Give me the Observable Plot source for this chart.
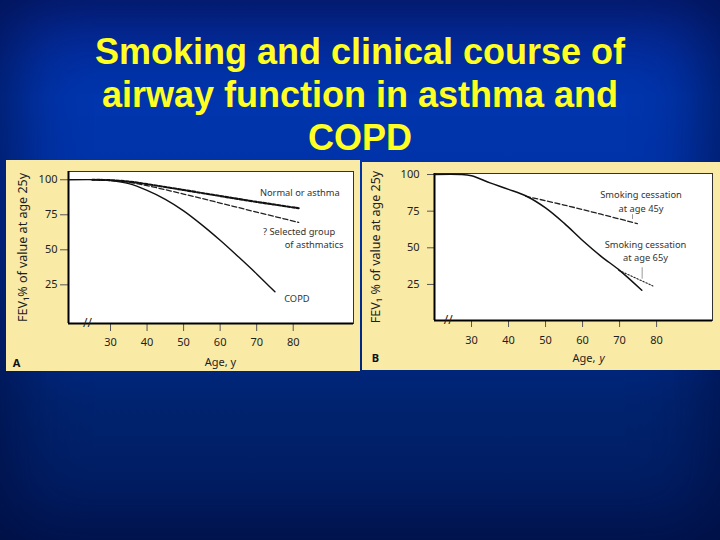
<!DOCTYPE html>
<html>
<head>
<meta charset="utf-8">
<script src="https://cdn.jsdelivr.net/npm/d3@7"></script>
<script src="https://cdn.jsdelivr.net/npm/@observablehq/plot@0.6"></script>
<style>
  html, body { margin: 0; padding: 0; }
  body {
    width: 720px; height: 540px; position: relative; overflow: hidden;
    background: linear-gradient(to bottom, #06289a 0%, #0035ad 18%, #0031a4 45%, #00236f 75%, #001a5c 100%);
  }
  #vignette {
    position: absolute; left: 0; top: 0; width: 720px; height: 540px;
    box-shadow: inset 0 0 70px 10px rgba(0, 12, 60, 0.75);
    pointer-events: none;
  }
  #title {
    position: absolute; left: 0; top: 30px; width: 720px; margin: 0;
    text-align: center; color: #ffff22;
    font-family: "Liberation Sans", Arial, sans-serif; font-weight: bold;
    font-size: 36px; line-height: 43px;
  }
  .panel { position: absolute; background: #f9eaa6; }
  .panel svg { display: block; }
  #panelA { left: 6px; top: 160px; width: 354px; height: 211px; }
  #panelB { left: 362px; top: 162px; width: 358px; height: 208px; }
</style>
</head>
<body>
<div id="vignette"></div>
<h1 id="title">Smoking and clinical course of<br>airway function in asthma and<br>COPD</h1>
<div class="panel" id="panelA"></div>
<div class="panel" id="panelB"></div>
<script>
// ---------- data ----------
const ageTicks = [30, 40, 50, 60, 70, 80];
const fevTicks = [25, 50, 75, 100];

// Panel A
const ageNormalA = [25, 30, 35, 40, 50, 60, 70, 81.5];
const fevNormalA = [100, 99.7, 98.7, 96.9, 92.7, 88.4, 84.2, 79.7];
const ageSelectedA = [25, 30, 35, 40, 50, 60, 70, 81.5];
const fevSelectedA = [100, 99.6, 98.2, 95.8, 89.8, 83.4, 76.9, 69.6];
const ageCopdA = [18.5, 27, 30, 35, 40, 45, 50, 55, 60, 65, 70, 75];
const fevCopdA = [100, 100, 99.4, 97.2, 92.4, 86.0, 77.8, 67.8, 56.8, 45.0, 32.8, 20];
const notesA = [
  {age: 81.8, fev: 90.6, text: "Normal or asthma"},
  {age: 81.6, fev: 62.6, text: "? Selected group"},
  {age: 85.7, fev: 53.6, text: "of asthmatics"},
  {age: 81.0, fev: 15.2, text: "COPD"}
];

// Panel B
const ageSmokeB = [20, 27, 30, 35, 40, 45, 50, 55, 60, 65, 70, 76];
const fevSmokeB = [100, 100, 99.1, 94.3, 89.9, 85.0, 77.2, 66.8, 55.0, 44.2, 34.6, 21];
const ageStop45B = [44.6, 55, 65, 74.8];
const fevStop45B = [85.2, 79.2, 72.9, 66.5];
const ageStop65B = [69.8, 79];
const fevStop65B = [34.6, 24];
const noteStop45B = [{age: 75.8, fev: 82.4, text: "Smoking cessation\nat age 45y"}];
const noteStop65B = [{age: 77.0, fev: 48.3, text: "Smoking cessation\nat age 65y"}];
const leadersB = [
  {age: 73.5, from: 69.3, to: 72.6},
  {age: 76.1, from: 28.6, to: 36.4}
];
const breakAge = [23.7];

const xDomA = [18.5, 96.5], yDomA = [-2.6, 105.9];
const xDomB = [20, 95.1], yDomB = [0.4, 100.7];

const pts = (xs, ys) => xs.map((x, i) => ({x, y: ys[i]}));
const ink = "#1e1e1e";
const font = "Noto Sans, Open Sans, sans-serif";

// ---------- panel A ----------
const plotA = Plot.plot({
  width: 354, height: 211,
  marginLeft: 62, marginRight: 7, marginTop: 11, marginBottom: 48,
  style: {background: "transparent", fontFamily: font, color: ink, overflow: "visible"},
  x: {domain: xDomA},
  y: {domain: yDomA},
  marks: [
    Plot.frame({fill: "white", stroke: "#333", strokeWidth: 1}),
    Plot.axisX({ticks: ageTicks, tickSize: 8, tickPadding: 7, fontSize: 11, label: null, stroke: "#555"}),
    Plot.axisY({ticks: fevTicks, tickSize: 8, tickPadding: 3, fontSize: 11, label: null, stroke: "#555"}),
    Plot.ruleX([xDomA[0]], {stroke: "black", strokeWidth: 2}),
    Plot.ruleY([yDomA[0]], {stroke: "black", strokeWidth: 2}),
    Plot.line(pts(ageSelectedA, fevSelectedA), {x: "x", y: "y", curve: "catmull-rom", stroke: "#222", strokeWidth: 1.3, strokeDasharray: "5,2.5"}),
    Plot.line(pts(ageNormalA, fevNormalA), {x: "x", y: "y", curve: "catmull-rom", stroke: "#111", strokeWidth: 2.1, strokeDasharray: "3,1.8"}),
    Plot.line(pts(ageCopdA, fevCopdA), {x: "x", y: "y", curve: "catmull-rom", stroke: "#111", strokeWidth: 1.4}),
    Plot.text(notesA, {x: "age", y: "fev", text: "text", fontSize: 9.3, fill: "#333"}),
    Plot.text(breakAge, {x: d => d, frameAnchor: "bottom", text: () => "//", fontSize: 12, fill: "#222", lineAnchor: "middle"}),
    Plot.text(["FEV\u2081% of value at age 25y"], {frameAnchor: "left", rotate: -90, dx: -46, fontSize: 12.5, fill: ink, textAnchor: "middle", lineAnchor: "middle"}),
    Plot.text(["Age, y"], {frameAnchor: "bottom", dx: 9.5, dy: 39, fontSize: 11, fill: ink, textAnchor: "middle", lineAnchor: "middle"}),
    Plot.text(["A"], {frameAnchor: "bottom-left", dx: -52, dy: 40, fontSize: 11, fontWeight: "bold", fill: "#111", textAnchor: "middle", lineAnchor: "middle"})
  ]
});
document.getElementById("panelA").appendChild(plotA);

// ---------- panel B ----------
const plotB = Plot.plot({
  width: 358, height: 208,
  marginLeft: 72, marginRight: 8, marginTop: 11, marginBottom: 50,
  style: {background: "transparent", fontFamily: font, color: ink, overflow: "visible"},
  x: {domain: xDomB},
  y: {domain: yDomB},
  marks: [
    Plot.frame({fill: "white", stroke: "#333", strokeWidth: 1}),
    Plot.axisX({ticks: ageTicks, tickSize: 7, tickPadding: 9, fontSize: 11, label: null, stroke: "#555"}),
    Plot.axisY({ticks: fevTicks, tickSize: 7, tickPadding: 8, fontSize: 11, label: null, stroke: "#555"}),
    Plot.ruleX([xDomB[0]], {stroke: "black", strokeWidth: 2}),
    Plot.ruleY([yDomB[0]], {stroke: "black", strokeWidth: 2}),
    Plot.ruleX(leadersB, {x: "age", y1: "from", y2: "to", stroke: "#999", strokeWidth: 1}),
    Plot.line(pts(ageStop45B, fevStop45B), {x: "x", y: "y", curve: "catmull-rom", stroke: "#222", strokeWidth: 1.3, strokeDasharray: "5,2.5"}),
    Plot.line(pts(ageStop65B, fevStop65B), {x: "x", y: "y", stroke: "#222", strokeWidth: 1.1, strokeDasharray: "1.5,1.8"}),
    Plot.line(pts(ageSmokeB, fevSmokeB), {x: "x", y: "y", curve: "catmull-rom", stroke: "#111", strokeWidth: 1.5}),
    Plot.text(noteStop45B, {x: "age", y: "fev", text: "text", fontSize: 9.3, lineHeight: 1.54, fill: "#333"}),
    Plot.text(noteStop65B, {x: "age", y: "fev", text: "text", fontSize: 9.3, lineHeight: 1.38, fill: "#333"}),
    Plot.text(breakAge, {x: d => d, frameAnchor: "bottom", text: () => "//", fontSize: 12, fill: "#222", lineAnchor: "middle"}),
    Plot.text(["FEV\u2081 % of value at age 25y"], {frameAnchor: "left", rotate: -90, dx: -59, fontSize: 12.5, fill: ink, textAnchor: "middle", lineAnchor: "middle"}),
    Plot.text(["Age,"], {frameAnchor: "bottom", dx: 22, dy: 38, fontSize: 11, fill: ink, textAnchor: "end", lineAnchor: "middle"}),
    Plot.text(["y"], {frameAnchor: "bottom", dx: 26, dy: 38, fontSize: 11, fontStyle: "italic", fill: ink, textAnchor: "start", lineAnchor: "middle"}),
    Plot.text(["B"], {frameAnchor: "bottom-left", dx: -59, dy: 37.6, fontSize: 11, fontWeight: "bold", fill: "#111", textAnchor: "middle", lineAnchor: "middle"})
  ]
});
document.getElementById("panelB").appendChild(plotB);
</script>
</body>
</html>
